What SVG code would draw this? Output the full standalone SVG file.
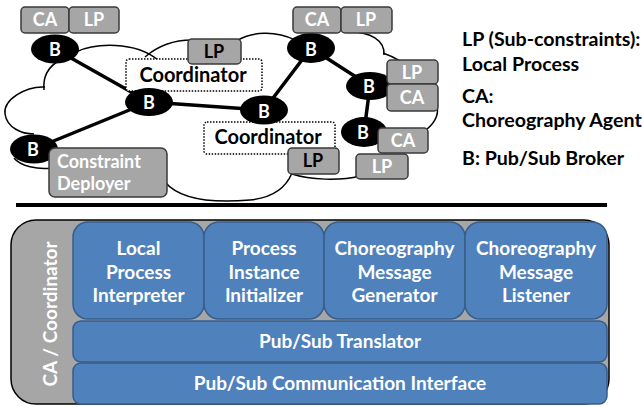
<svg xmlns="http://www.w3.org/2000/svg" width="642" height="407" viewBox="0 0 642 407">
<style>
.cloud{fill:none;stroke:#000;stroke-width:1.5}
.link{stroke:#000;stroke-width:3.5;stroke-linecap:round}
.broker{fill:#000}
.bt{fill:#fff;font-family:Lato,"Liberation Sans",sans-serif;font-weight:bold;font-size:18px;text-anchor:middle}
.gbox{fill:#a6a6a6;stroke:#3a3a3a;stroke-width:1.5}
.coord{fill:#fff;stroke:#000;stroke-width:1.5;stroke-dasharray:1.5 1.5}
.ct{fill:#000;font-family:Lato,"Liberation Sans",sans-serif;font-weight:bold;font-size:20px;text-anchor:middle}
.leg{fill:#000;font-family:Lato,"Liberation Sans",sans-serif;font-weight:bold;font-size:19.6px}
.blue{fill:#4f81bd;stroke:#385d8a;stroke-width:1.5}
.wt{fill:#fff;font-family:Lato,"Liberation Sans",sans-serif;font-weight:bold;font-size:19px;text-anchor:middle}
</style>
<rect width="642" height="407" fill="#fff"/>
<g id="cloud">
<path class="cloud" d="M45,87 C25,86 3,100 5,114 C7,128 22,134 34,134"/>
<path class="cloud" d="M60,60 Q42,70 44,90"/>
<path class="cloud" d="M76,52 C95,43 135,41 158,60"/>
<path class="cloud" d="M145,57 C160,44 175,40 192,40"/>
<path class="cloud" d="M238,40 C252,32 275,30 295,40"/>
<path class="cloud" d="M350,32 C370,32 385,40 384,55"/>
<path class="cloud" d="M383,53 Q392,56 402,62"/>
<path class="cloud" d="M436,104 C440,112 436,122 426,130"/>
<path class="cloud" d="M292,174 C310,180 340,181 360,176"/>
<path class="cloud" d="M165,182 C180,200 215,203 250,200 C270,198 285,190 292,173"/>
<path class="cloud" d="M14,158 C20,166 38,170 52,168"/>
</g>
<g id="connectors">
<line class="link" x1="55" y1="49" x2="149" y2="102"/>
<line class="link" x1="149" y1="102" x2="34" y2="149"/>
<line class="link" x1="149" y1="102" x2="264" y2="110"/>
<line class="link" x1="264" y1="110" x2="311" y2="48"/>
<line class="link" x1="311" y1="48" x2="370" y2="86"/>
<line class="link" x1="370" y1="86" x2="364" y2="132"/>
</g>
<g id="coordinator1"><rect class="coord" x="126" y="59" width="136" height="32" rx="3"/><text class="ct" x="193" y="82">Coordinator</text></g>
<g id="coordinator2"><rect class="coord" x="204" y="122" width="131" height="32" rx="3"/><text class="ct" x="268" y="144">Coordinator</text></g>
<g id="b1"><ellipse class="broker" cx="55" cy="49" rx="24" ry="14.5"/><text class="bt" x="55" y="56">B</text></g>
<g id="b2"><ellipse class="broker" cx="149" cy="102" rx="24" ry="14"/><text class="bt" x="149" y="109">B</text></g>
<g id="b3"><ellipse class="broker" cx="34" cy="149" rx="24" ry="14.5"/><text class="bt" x="33" y="156">B</text></g>
<g id="b4"><ellipse class="broker" cx="264" cy="110" rx="24" ry="14.5"/><text class="bt" x="264" y="118">B</text></g>
<g id="b5"><ellipse class="broker" cx="311" cy="48" rx="24" ry="15"/><text class="bt" x="311" y="56">B</text></g>
<g id="b6"><ellipse class="broker" cx="370" cy="86" rx="24" ry="14"/><text class="bt" x="369" y="93">B</text></g>
<g id="b7"><ellipse class="broker" cx="364" cy="132" rx="23" ry="15"/><text class="bt" x="363" y="139">B</text></g>
<g id="ca1"><rect class="gbox" x="21" y="7" width="48" height="26" rx="4"/><text class="bt" x="45" y="26">CA</text></g>
<g id="lp1"><rect class="gbox" x="69" y="7" width="50" height="26" rx="4"/><text class="bt" x="94" y="26">LP</text></g>
<g id="lp2"><rect class="gbox" x="188" y="39" width="53" height="25" rx="4"/><text class="bt" x="214" y="58" style="fill:#000">LP</text></g>
<g id="ca3"><rect class="gbox" x="293" y="7" width="48" height="26" rx="4"/><text class="bt" x="317" y="26">CA</text></g>
<g id="lp3"><rect class="gbox" x="341" y="7" width="51" height="26" rx="4"/><text class="bt" x="366" y="26">LP</text></g>
<g id="lp4"><rect class="gbox" x="387" y="60" width="51" height="24" rx="4"/><text class="bt" x="412" y="79">LP</text></g>
<g id="ca4"><rect class="gbox" x="387" y="84" width="51" height="27" rx="4"/><text class="bt" x="412" y="104">CA</text></g>
<g id="ca5"><rect class="gbox" x="378" y="128" width="50" height="25" rx="4"/><text class="bt" x="403" y="147">CA</text></g>
<g id="lp5"><rect class="gbox" x="356" y="154" width="52" height="25" rx="4"/><text class="bt" x="382" y="173">LP</text></g>
<g id="lp6"><rect class="gbox" x="288" y="148" width="51" height="26" rx="4"/><text class="bt" x="313" y="167" style="fill:#000">LP</text></g>
<g id="deployer"><rect class="gbox" x="49" y="148" width="118" height="49" rx="6"/><text class="bt" x="57" y="168" style="text-anchor:start">Constraint</text><text class="bt" x="57" y="190" style="text-anchor:start">Deployer</text></g>
<g id="legend">
<text class="leg" x="462" y="46">LP (Sub-constraints):</text>
<text class="leg" x="462" y="71">Local Process</text>
<text class="leg" x="462" y="103">CA:</text>
<text class="leg" x="462" y="127">Choreography Agent</text>
<text class="leg" x="462" y="165">B: Pub/Sub Broker</text>
</g>
<line x1="16" y1="205" x2="607" y2="205" stroke="#000" stroke-width="4"/>
<g id="ca-coordinator"><rect x="11" y="220" width="598" height="184" rx="25" fill="#a6a6a6" stroke="#000" stroke-width="1.5"/><text class="wt" transform="translate(57,314) rotate(-90)">CA / Coordinator</text></g>
<g id="lpi"><rect class="blue" x="73" y="222" width="131" height="97" rx="15"/><text class="wt" x="138.5" y="255">Local</text><text class="wt" x="138.5" y="279">Process</text><text class="wt" x="138.5" y="302">Interpreter</text></g>
<g id="pii"><rect class="blue" x="204" y="222" width="120" height="97" rx="15"/><text class="wt" x="264" y="255">Process</text><text class="wt" x="264" y="279">Instance</text><text class="wt" x="264" y="302">Initializer</text></g>
<g id="cmg"><rect class="blue" x="324" y="222" width="141" height="97" rx="15"/><text class="wt" x="394.5" y="255">Choreography</text><text class="wt" x="394.5" y="279">Message</text><text class="wt" x="394.5" y="302">Generator</text></g>
<g id="cml"><rect class="blue" x="465" y="222" width="142" height="97" rx="15"/><text class="wt" x="536" y="255">Choreography</text><text class="wt" x="536" y="279">Message</text><text class="wt" x="536" y="302">Listener</text></g>
<g id="translator"><rect class="blue" x="73" y="321" width="534" height="41" rx="8"/><text class="wt" x="340" y="348">Pub/Sub Translator</text></g>
<g id="interface"><rect class="blue" x="73" y="363" width="534" height="41" rx="8"/><text class="wt" x="340" y="390">Pub/Sub Communication Interface</text></g>
</svg>
